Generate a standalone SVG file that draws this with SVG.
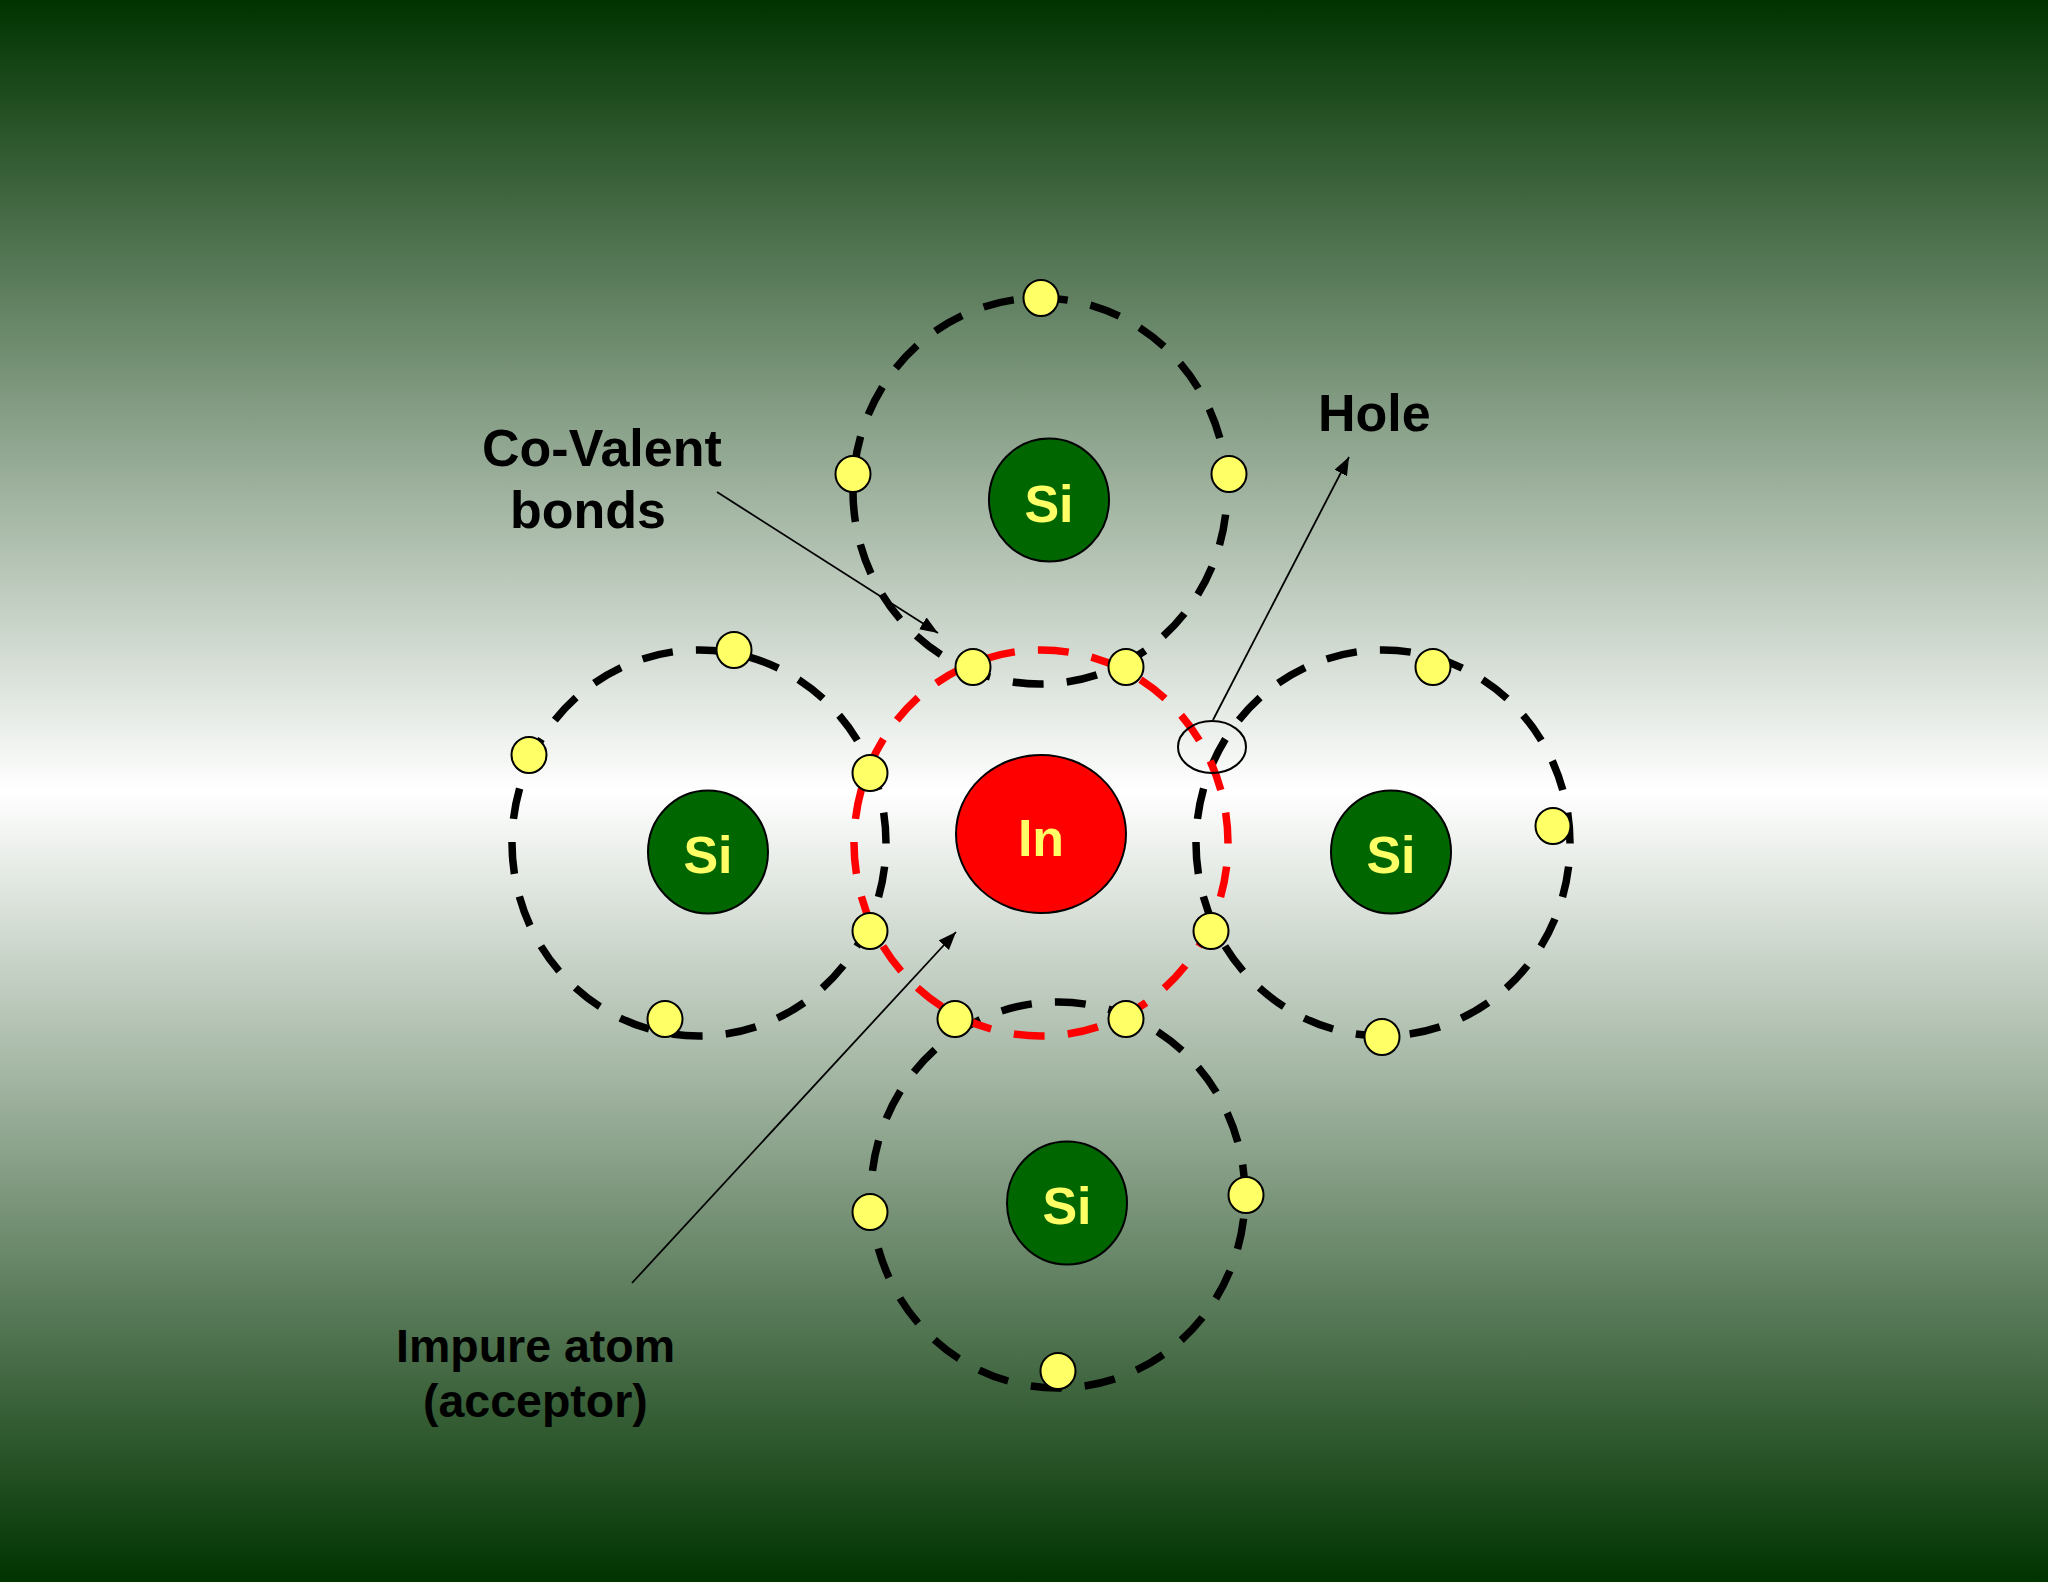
<svg xmlns="http://www.w3.org/2000/svg" width="2048" height="1582" viewBox="0 0 2048 1582">
<style>
.orbit{fill:none;stroke:#000;stroke-width:7.5;stroke-dasharray:31 23.2}
.orbit.red{stroke:#f00}
.si{fill:#006600;stroke:#000;stroke-width:2}
.in{fill:#f00;stroke:#000;stroke-width:2}
.e{fill:#ffff66;stroke:#000;stroke-width:2}
.sym{font:bold 52px "Liberation Sans",Arial,sans-serif;fill:#ffff66;text-anchor:middle}
.lbl{font:bold 52px "Liberation Sans",Arial,sans-serif;fill:#000}
.lbl2{font:bold 46.5px "Liberation Sans",Arial,sans-serif;fill:#000}
.arr{fill:none;stroke:#000;stroke-width:1.8;marker-end:url(#ah)}
</style>
<defs>
<linearGradient id="bg" x1="0" y1="0" x2="0" y2="1">
<stop offset="0" stop-color="#003300"/><stop offset="0.5" stop-color="#fff"/><stop offset="1" stop-color="#003300"/>
</linearGradient>
<marker id="ah" markerUnits="userSpaceOnUse" markerWidth="20" markerHeight="16" refX="18" refY="7" orient="auto">
<path d="M0 0L18 7L0 14Z" fill="#000"/>
</marker>
</defs>
<rect width="2048" height="1582" fill="url(#bg)"/>
<g id="orbits">
<path id="orbit-top" class="orbit" d="M853 491A187 193 0 1 0 1227 491A187 193 0 1 0 853 491Z"/>
<path id="orbit-left" class="orbit" d="M512 843A187 193 0 1 0 886 843A187 193 0 1 0 512 843Z"/>
<path id="orbit-right" class="orbit" d="M1196 843A187 193 0 1 0 1570 843A187 193 0 1 0 1196 843Z"/>
<path id="orbit-bottom" class="orbit" d="M871 1195A187 193 0 1 0 1245 1195A187 193 0 1 0 871 1195Z"/>
<path id="orbit-center" class="orbit red" d="M854 843A187 193 0 1 0 1228 843A187 193 0 1 0 854 843Z"/>
</g>
<g id="node-si-top"><ellipse class="si" cx="1049" cy="500" rx="60" ry="61.5"/><text class="sym" x="1049" y="522">Si</text></g>
<g id="node-si-left"><ellipse class="si" cx="708" cy="852" rx="60" ry="61.5"/><text class="sym" x="708" y="873">Si</text></g>
<g id="node-si-right"><ellipse class="si" cx="1391" cy="852" rx="60" ry="61.5"/><text class="sym" x="1391" y="873">Si</text></g>
<g id="node-si-bottom"><ellipse class="si" cx="1067" cy="1203" rx="60" ry="61.5"/><text class="sym" x="1067" y="1224">Si</text></g>
<g id="node-in"><ellipse class="in" cx="1041" cy="834" rx="85" ry="79"/><text class="sym" x="1041" y="856">In</text></g>
<g id="electrons">
<ellipse class="e" cx="1041" cy="298" rx="17.5" ry="18"/>
<ellipse class="e" cx="853" cy="474" rx="17.5" ry="18"/>
<ellipse class="e" cx="1229" cy="474" rx="17.5" ry="18"/>
<ellipse class="e" cx="973" cy="667" rx="17.5" ry="18"/>
<ellipse class="e" cx="1126" cy="667" rx="17.5" ry="18"/>
<ellipse class="e" cx="734" cy="650" rx="17.5" ry="18"/>
<ellipse class="e" cx="529" cy="755" rx="17.5" ry="18"/>
<ellipse class="e" cx="870" cy="773" rx="17.5" ry="18"/>
<ellipse class="e" cx="870" cy="931" rx="17.5" ry="18"/>
<ellipse class="e" cx="665" cy="1019" rx="17.5" ry="18"/>
<ellipse class="e" cx="955" cy="1019" rx="17.5" ry="18"/>
<ellipse class="e" cx="1126" cy="1019" rx="17.5" ry="18"/>
<ellipse class="e" cx="1433" cy="667" rx="17.5" ry="18"/>
<ellipse class="e" cx="1553" cy="826" rx="17.5" ry="18"/>
<ellipse class="e" cx="1211" cy="931" rx="17.5" ry="18"/>
<ellipse class="e" cx="1382" cy="1037" rx="17.5" ry="18"/>
<ellipse class="e" cx="870" cy="1212" rx="17.5" ry="18"/>
<ellipse class="e" cx="1246" cy="1195" rx="17.5" ry="18"/>
<ellipse class="e" cx="1058" cy="1371" rx="17.5" ry="18"/>
</g>
<g id="node-hole-marker"><ellipse cx="1212" cy="747" rx="34" ry="26" fill="none" stroke="#000" stroke-width="2"/></g>
<g id="connectors">
<line class="arr" x1="717" y1="492" x2="938" y2="633"/>
<line class="arr" x1="632" y1="1283" x2="956" y2="932"/>
<line class="arr" x1="1213" y1="720" x2="1349" y2="457"/>
</g>
<g id="label-covalent"><text class="lbl" x="482" y="466">Co-Valent</text><text class="lbl" x="510" y="528">bonds</text></g>
<g id="label-hole"><text class="lbl" x="1318" y="431">Hole</text></g>
<g id="label-impure"><text class="lbl2" x="396" y="1362">Impure atom</text><text class="lbl2" x="423" y="1417">(acceptor)</text></g>
</svg>
